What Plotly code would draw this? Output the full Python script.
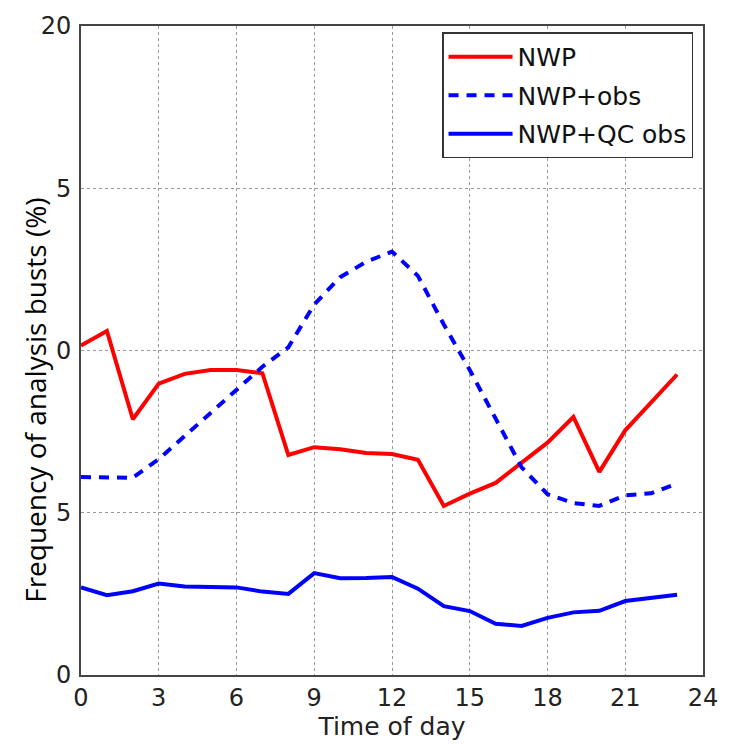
import plotly.graph_objects as go

hours = list(range(24))
nwp = [10.15, 10.6, 7.88, 8.98, 9.28, 9.4, 9.4, 9.3, 6.78, 7.02, 6.96, 6.84, 6.81, 6.63,
       5.21, 5.59, 5.92, 6.55, 7.16, 7.95, 6.26, 7.54, 8.4, 9.26]
nwp_obs = [6.1, 6.08, 6.08, 6.65, 7.36, 8.05, 8.75, 9.5, 10.1, 11.42, 12.26, 12.73, 13.05, 12.3,
           10.8, 9.4, 7.9, 6.4, 5.57, 5.3, 5.21, 5.54, 5.6, 5.9]
nwp_qc = [2.7, 2.46, 2.58, 2.82, 2.73, 2.72, 2.7, 2.57, 2.5, 3.14, 2.98, 2.99, 3.02, 2.66,
          2.12, 1.97, 1.58, 1.51, 1.76, 1.93, 1.98, 2.28, 2.39, 2.47]
x_ticks = [0, 3, 6, 9, 12, 15, 18, 21, 24]
y_ticks = [0, 5, 10, 15, 20]

fig = go.Figure()
fig.add_trace(go.Scatter(x=hours, y=nwp, mode="lines", name="NWP", legendgroup="a",
                         line=dict(color="#ff0000", width=4)))
fig.add_trace(go.Scatter(x=hours, y=nwp_obs, mode="lines", name="NWP+obs", legendgroup="b",
                         line=dict(color="#0000ff", width=4, dash="10px,8px")))
fig.add_trace(go.Scatter(x=hours, y=nwp_qc, mode="lines", name="NWP+QC obs", legendgroup="c",
                         line=dict(color="#0000ff", width=4)))

axis_common = dict(showline=True, linecolor="#444444", linewidth=2, mirror=True,
                   showgrid=True, gridcolor="#999999", griddash="dot", gridwidth=1,
                   zeroline=False, ticks="",
                   tickfont=dict(family="DejaVu Sans", size=24, color="#222222"))

fig.update_layout(
    width=730, height=746,
    margin=dict(l=81, r=20, t=20, b=71),
    paper_bgcolor="white", plot_bgcolor="white",
    showlegend=True,
    legend=dict(x=0.984, y=0.99, xanchor="right", yanchor="top",
                bgcolor="white", bordercolor="#333333", borderwidth=1.5,
                font=dict(family="DejaVu Sans", size=25, color="#111111"),
                tracegroupgap=3, itemwidth=64),
    xaxis=dict(range=[0, 24], tickvals=x_ticks, ticktext=[str(v) for v in x_ticks],
               title=dict(text="Time of day", font=dict(family="DejaVu Sans", size=25, color="#222222"),
                          standoff=2),
               **axis_common),
    yaxis=dict(range=[0, 20], tickvals=y_ticks, ticktext=[str(v) for v in y_ticks],
               ticklabelstandoff=3, **axis_common),
)

# white backing behind the rotated y title (it overlaps the tick labels in the original)
fig.add_shape(type="rect", xref="paper", yref="paper", layer="above",
              x0=-0.105, x1=-0.0413, y0=0.10, y1=0.77,
              fillcolor="white", line=dict(width=0))

fig.add_annotation(text="Frequency of analysis busts (%)", xref="paper", yref="paper",
                   x=-0.074, y=0.424, xanchor="center", yanchor="middle", textangle=-90,
                   showarrow=False,
                   font=dict(family="Open Sans", size=28, color="#000000"))

fig.write_html("out.html")
